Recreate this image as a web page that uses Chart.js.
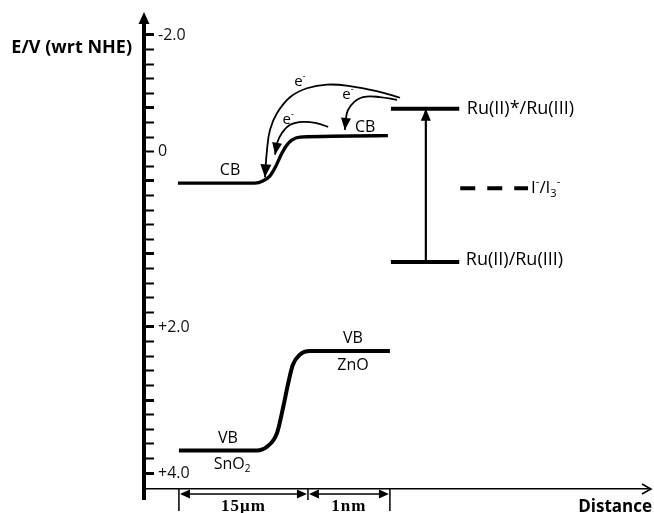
<!DOCTYPE html>
<html>
<head>
<meta charset="utf-8">
<script src="https://cdn.jsdelivr.net/npm/chart.js@4.4.1/dist/chart.umd.min.js"></script>
<style>
  html, body { margin: 0; padding: 0; background: #fff; }
  #chart { display: block; }
</style>
</head>
<body>
<canvas id="chart" width="654" height="513"></canvas>
<script>
// Energy band diagram SnO2 / ZnO / Ru dye, E in V vs NHE
// x is a schematic "distance": 0 = E axis, 100 = tip of the distance arrow

// conduction band, SnO2 -> ZnO
const cbX = [6.7, 21.9, 23.5, 24.9, 26.1, 27.1, 28.1, 29.2, 30.8, 48.2];
const cbE = [0.03, 0.03, 0.0, -0.07, -0.21, -0.36, -0.48, -0.56, -0.60, -0.62];

// valence band, SnO2 -> ZnO
const vbX = [6.9, 22.3, 24.3, 26.3, 27.5, 28.5, 29.4, 30.8, 32.8, 48.6];
const vbE = [3.69, 3.69, 3.64, 3.45, 3.10, 2.77, 2.52, 2.38, 2.33, 2.33];

// dye and electrolyte levels
const dyeX = [48.8, 62.3];
const ruExcitedE = -0.99;   // Ru(II)*/Ru(III)
const ruGroundE = 1.11;     // Ru(II)/Ru(III)
const redoxX = [62.5, 75.9];
const redoxE = 0.10;        // I-/I3-
const excitationX = 55.7;

// electron transfer paths (e-)
const eBigX = [50.6, 46.0, 40.7, 36.2, 32.2, 28.9, 26.3, 24.9, 24.3, 23.9];
const eBigE = [-1.14, -1.23, -1.30, -1.32, -1.27, -1.15, -0.93, -0.70, -0.42, -0.05];
const eMidX = [50.0, 46.6, 43.3, 41.5, 40.3, 39.9, 39.7];
const eMidE = [-1.11, -1.15, -1.15, -1.08, -0.97, -0.85, -0.70];
const eSmallX = [36.4, 34.2, 31.4, 28.9, 27.3, 26.3, 25.9];
const eSmallE = [-0.74, -0.79, -0.81, -0.77, -0.66, -0.52, -0.36];

// distance ruler below the axis
const rulerX = [6.9, 32.4, 48.6];
const rulerLabels = ["15\u03bcm", "1nm"];

// y axis ticks (0.2 V) and the few labelled ones
const yTickValues = [];
for (let i = 0; i <= 30; i++) yTickValues.push(Math.round((-2 + i * 0.2) * 10) / 10);
// the "0" label sits two minor ticks above the 0 V tick in the original figure
const yTickLabels = { "-2": "-2.0", "-0.4": "0", "2": "+2.0", "4": "+4.0" };

const FONT = "'Open Sans', 'Noto Sans', sans-serif";
Chart.defaults.font.family = FONT;
Chart.defaults.color = "#111";

function series(xs, ys, extra) {
  return Object.assign({
    data: xs.map((x, i) => ({ x: x, y: ys[i] })),
    showLine: true,
    borderColor: "#000",
    backgroundColor: "#000",
    borderWidth: 4,
    pointRadius: 0,
    pointHoverRadius: 0,
    fill: false
  }, extra || {});
}

function arrowHead(ctx, fx, fy, tx, ty, len, w) {
  const ang = Math.atan2(ty - fy, tx - fx);
  ctx.save();
  ctx.translate(tx, ty);
  ctx.rotate(ang);
  ctx.beginPath();
  ctx.moveTo(0, 0);
  ctx.lineTo(-len, -w / 2);
  ctx.lineTo(-len, w / 2);
  ctx.closePath();
  ctx.fill();
  ctx.restore();
}

// parts: [text, kind] with kind 0 normal, 1 superscript, -1 subscript
function richText(ctx, parts, x, y, size, align, weight) {
  const fontFor = k => (weight || "normal") + " " + (k ? Math.round(size * 0.62) : size) + "px " + FONT;
  let total = 0;
  parts.forEach(p => { ctx.font = fontFor(p[1] || 0); total += ctx.measureText(p[0]).width; });
  let cx = align === "center" ? x - total / 2 : align === "right" ? x - total : x;
  ctx.textAlign = "left";
  ctx.textBaseline = "middle";
  parts.forEach(p => {
    const k = p[1] || 0;
    ctx.font = fontFor(k);
    const dy = k === 1 ? -size * 0.38 : k === -1 ? size * 0.3 : 0;
    ctx.fillText(p[0], cx, y + dy);
    cx += ctx.measureText(p[0]).width;
  });
}

const decorations = {
  id: "decorations",
  afterDatasetsDraw(chart) {
    const { ctx, chartArea: a, scales: { x, y } } = chart;
    const px = v => x.getPixelForValue(v);
    const py = v => y.getPixelForValue(v);
    ctx.save();
    ctx.fillStyle = "#000";
    ctx.strokeStyle = "#000";

    // heads on the arrow datasets
    chart.data.datasets.forEach((ds, i) => {
      if (!ds.arrow) return;
      const pts = chart.getDatasetMeta(i).data;
      const p = pts[pts.length - 1];
      let q = { x: p.cp1x, y: p.cp1y };
      if (q.x === undefined || Math.hypot(p.x - q.x, p.y - q.y) < 1) q = pts[pts.length - 2];
      arrowHead(ctx, q.x, q.y, p.x, p.y, ds.arrow[0], ds.arrow[1]);
    });

    // E axis: arrow on top, stub below the distance axis
    arrowHead(ctx, a.left, a.top + 10, a.left, a.top - 8, 12, 11);
    ctx.fillRect(a.left - 2, a.bottom, 4, 11);

    // distance axis open arrow
    ctx.lineWidth = 1.5;
    ctx.beginPath();
    ctx.moveTo(a.right - 8, a.bottom - 5);
    ctx.lineTo(a.right + 1, a.bottom);
    ctx.lineTo(a.right - 8, a.bottom + 5);
    ctx.stroke();

    // ruler with dimension arrows
    const ry = a.bottom + 5;
    ctx.lineWidth = 1.5;
    rulerX.forEach((v, i) => {
      const rx = px(v);
      ctx.beginPath();
      ctx.moveTo(rx, a.bottom);
      ctx.lineTo(rx, a.bottom + (i === 1 ? 11 : 22));
      ctx.stroke();
    });
    for (let i = 0; i < rulerX.length - 1; i++) {
      const x0 = px(rulerX[i]), x1 = px(rulerX[i + 1]);
      ctx.beginPath();
      ctx.moveTo(x0 + 6, ry);
      ctx.lineTo(x1 - 6, ry);
      ctx.stroke();
      arrowHead(ctx, x0 + 10, ry, x0 + 1, ry, 10, 9);
      arrowHead(ctx, x1 - 10, ry, x1 - 1, ry, 10, 9);
      ctx.font = "bold 17px 'Liberation Serif', 'DejaVu Serif', serif";
      ctx.letterSpacing = "1px";
      ctx.textAlign = "center";
      ctx.textBaseline = "middle";
      ctx.fillText(rulerLabels[i], (x0 + x1) / 2, a.bottom + 18);
      ctx.letterSpacing = "0px";
    }

    // axis titles
    richText(ctx, [["E/V (wrt NHE)"]], a.left - 12, py(-1.82), 18, "right", "bold");
    richText(ctx, [["Distance"]], a.right + 2, a.bottom + 18, 17, "right", "bold");

    // band and level labels
    richText(ctx, [["CB"]], px(17.0), py(-0.15), 16, "center");
    richText(ctx, [["CB"]], px(43.7), py(-0.74), 16, "center");
    richText(ctx, [["VB"]], px(16.6), py(3.52), 16, "center");
    richText(ctx, [["SnO"], ["2", -1]], px(17.4), py(3.88), 16, "center");
    richText(ctx, [["VB"]], px(41.3), py(2.15), 16, "center");
    richText(ctx, [["ZnO"]], px(41.3), py(2.52), 16, "center");
    richText(ctx, [["Ru(II)*/Ru(III)"]], px(63.8), py(ruExcitedE), 18, "left");
    richText(ctx, [["Ru(II)/Ru(III)"]], px(63.6), py(1.08), 18, "left");
    richText(ctx, [["I"], ["-", 1], ["/I"], ["3", -1], ["-", 1]], px(76.5), py(redoxE), 17, "left");
    richText(ctx, [["e"], ["-", 1]], px(30.8), py(-1.36), 15, "center");
    richText(ctx, [["e"], ["-", 1]], px(40.3), py(-1.18), 15, "center");
    richText(ctx, [["e"], ["-", 1]], px(28.5), py(-0.84), 15, "center");

    ctx.restore();
  }
};

new Chart(document.getElementById("chart"), {
  type: "scatter",
  data: {
    datasets: [
      series(cbX, cbE, { cubicInterpolationMode: "monotone", borderWidth: 3.3 }),
      series(vbX, vbE, { cubicInterpolationMode: "monotone", borderWidth: 4 }),
      series(dyeX, [ruExcitedE, ruExcitedE], { borderWidth: 4 }),
      series(dyeX, [ruGroundE, ruGroundE], { borderWidth: 4 }),
      series(redoxX, [redoxE, redoxE], { borderWidth: 4, borderDash: [15, 12] }),
      series([excitationX, excitationX], [ruGroundE, ruExcitedE], { borderWidth: 2.2, arrow: [12, 10] }),
      series(eBigX, eBigE, { tension: 0.4, borderWidth: 1.8, arrow: [13, 11] }),
      series(eMidX, eMidE, { tension: 0.4, borderWidth: 1.8, arrow: [12, 10] }),
      series(eSmallX, eSmallE, { tension: 0.4, borderWidth: 1.8, arrow: [12, 10] })
    ]
  },
  options: {
    responsive: false,
    devicePixelRatio: 1,
    animation: false,
    events: [],
    layout: { padding: { left: 134, right: 4, top: 20, bottom: 0 } },
    plugins: { legend: { display: false }, tooltip: { enabled: false } },
    scales: {
      x: {
        type: "linear",
        min: 0,
        max: 100,
        grid: { display: false, drawTicks: false },
        border: { display: true, color: "#000", width: 1.5 },
        ticks: { display: false },
        afterFit: s => { s.height = 24; }
      },
      y: {
        type: "linear",
        reverse: true,
        min: -2.205,
        max: 4.219,
        afterBuildTicks: s => { s.ticks = yTickValues.map(v => ({ value: v })); },
        afterFit: s => { s.width = 10; s.paddingTop = 0; s.paddingBottom = 0; },
        border: { display: true, color: "#000", width: 4 },
        grid: {
          drawOnChartArea: false,
          drawTicks: true,
          tickLength: -10,
          tickColor: "#000",
          tickWidth: c => (c.tick && Number.isInteger(c.tick.value) ? 3 : 2)
        },
        ticks: {
          autoSkip: false,
          mirror: true,
          padding: 14,
          color: "#111",
          font: { size: 16 },
          callback: v => yTickLabels[String(v)] || ""
        }
      }
    }
  },
  plugins: [decorations]
});
</script>
</body>
</html>
